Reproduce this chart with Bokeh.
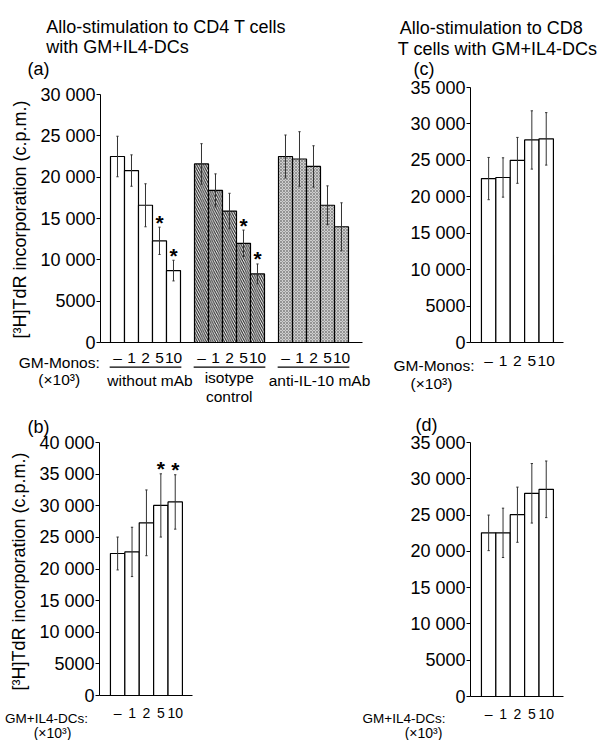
import math
from bokeh.plotting import figure
from bokeh.models import Range1d, FixedTicker, Label, Arrow, ColumnDataSource
from bokeh.layouts import row, column
from bokeh.embed import file_html
from bokeh.resources import INLINE
from bokeh.core.properties import value

FONT = "Liberation Sans"

# ---------------- data ----------------
dose_labels = ["–", "1", "2", "5", "10"]
yticks_30k = [0, 5000, 10000, 15000, 20000, 25000, 30000]
yticks_35k = [0, 5000, 10000, 15000, 20000, 25000, 30000, 35000]
yticks_40k = [0, 5000, 10000, 15000, 20000, 25000, 30000, 35000, 40000]

a_without_mean = [22500, 20800, 16600, 12300, 8700]
a_without_sd = [2450, 1900, 2600, 1650, 1250]
a_without_star = [False, False, False, True, True]
a_isotype_mean = [21600, 18400, 15900, 12000, 8300]
a_isotype_sd = [2450, 2000, 2150, 1600, 1200]
a_isotype_star = [False, False, False, True, True]
a_antiil10_mean = [22500, 22200, 21300, 16600, 14000]
a_antiil10_sd = [2600, 3300, 2500, 2350, 2900]
a_antiil10_star = [False, False, False, False, False]

b_mean = [22450, 22700, 27300, 30050, 30600]
b_sd = [2600, 3900, 5200, 5000, 4300]
b_star = [False, False, False, True, True]

c_mean = [22500, 22650, 25000, 27800, 27950]
c_sd = [2900, 2700, 3150, 4000, 3600]
c_star = [False] * 5

d_mean = [22550, 22550, 25050, 28000, 28550]
d_sd = [2450, 3400, 3800, 4100, 3900]
d_star = [False] * 5

# ---------------- layout specs (page pixels) ----------------
# cx, cy, w, h: canvas box; fl, fr, ft, fb: axes box; xr, yr: axis data extents
A = dict(cx=0, cy=0, w=380, h=404, fl=100, fr=362, ft=94, fb=342, xr=(-1.214, 17.5), yr=(0, 30000))
C = dict(cx=380, cy=0, w=222, h=404, fl=470, fr=563, ft=87, fb=342, xr=(-1.26, 5.2), yr=(0, 35000))
B = dict(cx=0, cy=404, w=355, h=336, fl=99, fr=192, ft=442, fb=695, xr=(-1.26, 5.2), yr=(0, 40000))
D = dict(cx=355, cy=404, w=247, h=336, fl=470, fr=563, ft=442, fb=696, xr=(-1.26, 5.2), yr=(0, 35000))


def X(s, px):
    return s['xr'][0] + (px - s['fl']) / (s['fr'] - s['fl']) * (s['xr'][1] - s['xr'][0])


def Y(s, py):
    return s['yr'][0] + (s['fb'] - py) / (s['fb'] - s['ft']) * (s['yr'][1] - s['yr'][0])


def fmt(v):
    if v < 10000:
        return str(v)
    return f"{v // 1000} 000"


def make_fig(s, yticks, xticks, x_font, x_standoff):
    p = figure(width=s['w'], height=s['h'],
               x_range=Range1d(X(s, s['cx']), X(s, s['cx'] + s['w'])),
               y_range=Range1d(Y(s, s['cy'] + s['h']), Y(s, s['cy'])),
               output_backend="svg", toolbar_location=None, min_border=0)
    p.grid.visible = False
    p.outline_line_color = None
    p.background_fill_color = "white"
    p.border_fill_color = "white"
    ya = p.yaxis[0]
    ya.fixed_location = s['xr'][0]
    ya.bounds = s['yr']
    ya.ticker = FixedTicker(ticks=yticks, minor_ticks=[])
    ya.major_label_overrides = {t: fmt(t) for t in yticks}
    ya.major_label_text_font = FONT
    ya.major_label_text_font_size = "18px"
    ya.major_label_text_color = "black"
    ya.major_tick_out = 4
    ya.major_tick_in = 0
    ya.major_label_standoff = 1
    ya.axis_line_color = "black"
    ya.major_tick_line_color = "black"
    xa = p.xaxis[0]
    xa.fixed_location = s['yr'][0]
    xa.bounds = s['xr']
    xa.ticker = FixedTicker(ticks=xticks, minor_ticks=[])
    xa.major_label_overrides = {t: dose_labels[i % 5] for i, t in enumerate(xticks)}
    xa.major_label_text_font = FONT
    xa.major_label_text_font_size = x_font
    xa.major_label_text_color = "black"
    xa.major_tick_out = 0
    xa.major_tick_in = 0
    xa.major_label_standoff = x_standoff
    xa.axis_line_color = "black"
    return p


def add_text(p, s, text, px, py, size, align="left", baseline="alphabetic", angle=0.0):
    p.add_layout(Label(x=X(s, px), y=Y(s, py), text=text, text_font=FONT,
                       text_font_size=f"{size}px", text_align=align,
                       text_baseline=baseline, text_color="black", angle=angle))


def draw_bars(p, offset, means, sds, stars, **fill):
    xs = [offset + i for i in range(len(means))]
    his = [m + e for m, e in zip(means, sds)]
    los = [m - e for m, e in zip(means, sds)]
    src = ColumnDataSource(dict(x=xs, top=means, lo=los, hi=his))
    p.vbar(x='x', top='top', bottom=0, width=1, source=src,
           line_color="black", line_width=1.2, **fill)
    p.segment(x0='x', y0='lo', x1='x', y1='hi', source=src,
              line_color="#333333", line_width=1)
    cap = 0.08
    p.segment(x0=[x - cap for x in xs] * 2, x1=[x + cap for x in xs] * 2,
              y0=his + los, y1=his + los, line_color="#333333", line_width=1)
    sx = [x for x, st in zip(xs, stars) if st]
    sy = [h for h, st in zip(his, stars) if st]
    if sx:
        p.text(x=sx, y=sy, text=["*"] * len(sx), text_font=value(FONT),
               text_font_style="bold", text_font_size="21px",
               text_align="center", text_baseline="alphabetic", y_offset=-5,
               text_color="black")


WHITE = dict(fill_color="white")
HATCH = dict(fill_color="white", hatch_pattern="\\", hatch_scale=4.5,
             hatch_weight=1.1, hatch_color="#222222")
DOTTED = dict(fill_color="#cfcfcf", hatch_pattern="x", hatch_scale=3,
              hatch_weight=0.7, hatch_color="#7a7a7a")

YLABEL = "[³H]TdR incorporation (c.p.m.)"

# ---------------- panel (a) ----------------
offsets_a = [0, 6, 12]
xt_a = [o + i for o in offsets_a for i in range(5)]
fa = make_fig(A, yticks_30k, xt_a, "15.5px", 6)
draw_bars(fa, 0, a_without_mean, a_without_sd, a_without_star, **WHITE)
draw_bars(fa, 6, a_isotype_mean, a_isotype_sd, a_isotype_star, **HATCH)
draw_bars(fa, 12, a_antiil10_mean, a_antiil10_sd, a_antiil10_star, **DOTTED)
add_text(fa, A, "Allo-stimulation to CD4 T cells", 45.7, 26, 18)
add_text(fa, A, "with GM+IL4-DCs", 45.7, 46.5, 18)
add_text(fa, A, "(a)", 27, 68, 18)
add_text(fa, A, YLABEL, 19, 219, 18, align="center", baseline="middle", angle=math.pi / 2)
add_text(fa, A, "GM-Monos:", 18.3, 361.7, 15.5)
add_text(fa, A, "(×10³)", 58.7, 378.5, 15.5, align="center")
for o in offsets_a:
    fa.add_layout(Arrow(end=None, x_start=o - 0.56, x_end=o + 4.56,
                        y_start=Y(A, 366.7), y_end=Y(A, 366.7),
                        line_color="black", line_width=1.3))
add_text(fa, A, "without mAb", 149.5, 379.5, 15.5, align="center")
add_text(fa, A, "isotype", 228.7, 376.7, 15.5, align="center")
add_text(fa, A, "control", 228.7, 396, 15.5, align="center")
add_text(fa, A, "anti-IL-10 mAb", 319, 379.5, 15.5, align="center")

# ---------------- panel (c) ----------------
xt5 = [0, 1, 2, 3, 4]
fc = make_fig(C, yticks_35k, xt5, "15.5px", 9)
draw_bars(fc, 0, c_mean, c_sd, c_star, **WHITE)
add_text(fc, C, "Allo-stimulation to CD8", 399.3, 27, 18)
add_text(fc, C, "T cells with GM+IL4-DCs", 397.3, 48, 18)
add_text(fc, C, "(c)", 413, 68, 18)
add_text(fc, C, "GM-Monos:", 393, 365, 15.5)
add_text(fc, C, "(×10³)", 431, 383, 15.5, align="center")

# ---------------- panel (b) ----------------
fb = make_fig(B, yticks_40k, xt5, "14px", 9)
draw_bars(fb, 0, b_mean, b_sd, b_star, **WHITE)
add_text(fb, B, "(b)", 27, 426.5, 18)
add_text(fb, B, YLABEL, 18, 571, 18, align="center", baseline="middle", angle=math.pi / 2)
add_text(fb, B, "GM+IL4-DCs:", 87.5, 718, 13.5, align="right")
add_text(fb, B, "(×10³)", 52, 732, 14, align="center")

# ---------------- panel (d) ----------------
fd = make_fig(D, yticks_35k, xt5, "14px", 9)
draw_bars(fd, 0, d_mean, d_sd, d_star, **WHITE)
add_text(fd, D, "(d)", 415, 424.5, 18)
add_text(fd, D, "GM+IL4-DCs:", 445, 718, 13.5, align="right")
add_text(fd, D, "(×10³)", 423, 732, 14, align="center")

layout = column(row(fa, fc), row(fb, fd))
open("out.html", "w").write(file_html(layout, INLINE))
